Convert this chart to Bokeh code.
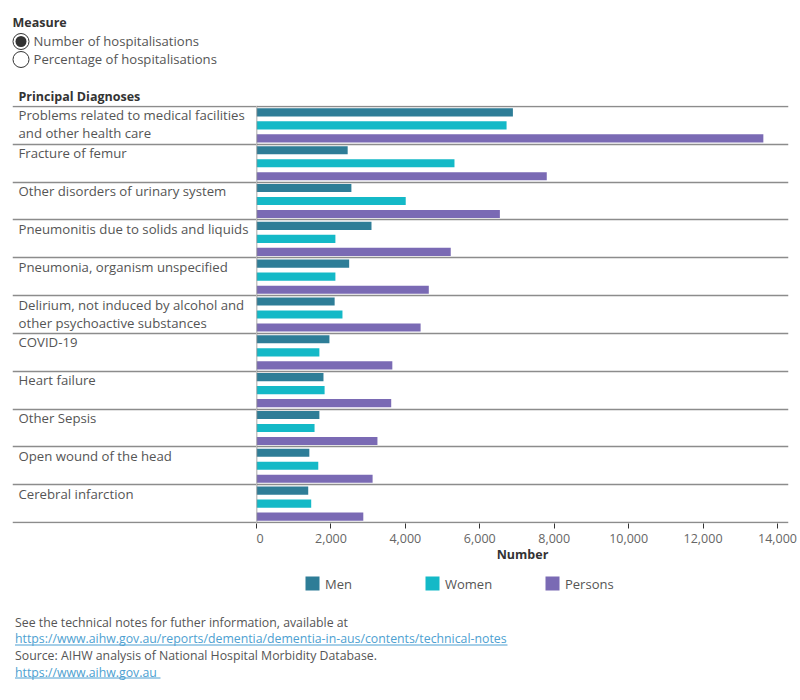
from bokeh.plotting import figure
from bokeh.models import (ColumnDataSource, FactorRange, Range1d, FixedTicker,
                          NumeralTickFormatter, Span, Spacer)
from bokeh.layouts import column, row
from bokeh.transform import dodge
from bokeh.core.properties import value
from bokeh.embed import file_html
from bokeh.resources import INLINE

# ---- data -------------------------------------------------------------
diagnoses = [
    "Problems related to medical facilities and other health care",
    "Fracture of femur",
    "Other disorders of urinary system",
    "Pneumonitis due to solids and liquids",
    "Pneumonia, organism unspecified",
    "Delirium, not induced by alcohol and other psychoactive substances",
    "COVID-19",
    "Heart failure",
    "Other Sepsis",
    "Open wound of the head",
    "Cerebral infarction",
]
diagnosis_labels = [
    "Problems related to medical facilities\nand other health care",
    "Fracture of femur",
    "Other disorders of urinary system",
    "Pneumonitis due to solids and liquids",
    "Pneumonia, organism unspecified",
    "Delirium, not induced by alcohol and\nother psychoactive substances",
    "COVID-19",
    "Heart failure",
    "Other Sepsis",
    "Open wound of the head",
    "Cerebral infarction",
]
men = [6890, 2450, 2550, 3090, 2490, 2100, 1960, 1800, 1690, 1420, 1390]
women = [6720, 5320, 4010, 2120, 2120, 2310, 1690, 1830, 1560, 1660, 1470]
persons = [13620, 7800, 6540, 5220, 4630, 4410, 3650, 3620, 3250, 3120, 2870]

series_names = ["Men", "Women", "Persons"]
series_colors = ["#2e7d97", "#14b9c7", "#7a6ab4"]
x_ticks = [0, 2000, 4000, 6000, 8000, 10000, 12000, 14000]
measure_options = ["Number of hospitalisations", "Percentage of hospitalisations"]

FONT = value("Open Sans")
TEXT = "#555555"
DARK = "#333333"
RULE = "#8c8c8c"
LINK = "#4d9fd1"

source = ColumnDataSource(dict(diag=diagnoses, label=diagnosis_labels,
                               Men=men, Women=women, Persons=persons))

# ---- helpers ----------------------------------------------------------
def canvas(w, h):
    f = figure(width=w, height=h, x_range=Range1d(0, w), y_range=Range1d(h, 0),
               output_backend="svg", toolbar_location=None,
               x_axis_location=None, y_axis_location=None, min_border=0)
    f.outline_line_color = None
    f.grid.visible = False
    f.background_fill_color = "white"
    f.border_fill_color = "white"
    return f

# ---- header: measure selector and column title ------------------------
HEADER_H = 105
header = canvas(800, HEADER_H)
header.text(x=[12], y=[22], text=["Measure"], text_font=FONT, text_font_style="bold",
            text_font_size="12.5px", text_baseline="middle", text_color=DARK)
header.circle(x=[20.5, 20.5], y=[41, 59], radius=8, fill_color="white",
              line_color=DARK, line_width=1)
header.circle(x=[20.5], y=[41], radius=5.5, fill_color=DARK, line_color=None)
header.text(x=[33, 33], y=[40, 58], text=measure_options, text_font=FONT,
            text_font_size="13.1px", text_baseline="middle", text_color=TEXT)
header.text(x=[18], y=[96], text=["Principal Diagnoses"], text_font=FONT,
            text_font_style="bold", text_font_size="12.5px", text_baseline="middle",
            text_color=DARK)

# ---- shared category axis (top to bottom) ------------------------------
y_range = FactorRange(factors=list(reversed(diagnoses)), range_padding=0.0264,
                      range_padding_units="absolute")
boundaries = ColumnDataSource(dict(y=list(range(len(diagnoses) + 1))))

BOTTOM = 50
PLOT_H = 418 + BOTTOM

# ---- row labels ------------------------------------------------------
labels = figure(width=244, height=PLOT_H, x_range=Range1d(0, 244), y_range=y_range,
                output_backend="svg", toolbar_location=None,
                x_axis_location=None, y_axis_location=None,
                min_border_left=0, min_border_right=0, min_border_top=0,
                min_border_bottom=BOTTOM)
labels.outline_line_color = None
labels.grid.visible = False
labels.hspan(y="y", source=boundaries, line_color=RULE, line_width=1.5)
labels.text(x=6, y=dodge("diag", 0.5, range=y_range), text="label", source=source,
            text_font=FONT, text_font_size="13.2px", text_baseline="top",
            text_line_height=1.0, text_color=TEXT)

# ---- bars ------------------------------------------------------------
p = figure(width=544, height=PLOT_H, x_range=Range1d(0, 14296), y_range=y_range,
           output_backend="svg", toolbar_location=None, y_axis_location=None,
           min_border_left=0, min_border_right=12, min_border_top=0,
           min_border_bottom=BOTTOM)
p.outline_line_color = None
p.grid.visible = False
p.hspan(y="y", source=boundaries, line_color=RULE, line_width=1.5)
p.add_layout(Span(location=0, dimension="height", line_color=RULE, line_width=1.5))

offsets = [0.344, 0.0, -0.344]
for name, color, off in zip(series_names, series_colors, offsets):
    p.hbar(y=dodge("diag", off, range=y_range), right=name, left=0, height=0.215,
           source=source, fill_color=color, line_color=None)

ax = p.xaxis[0]
ax.ticker = FixedTicker(ticks=x_ticks)
ax.formatter = NumeralTickFormatter(format="0,0")
ax.axis_label = "Number"
ax.axis_label_text_font = "Open Sans"
ax.axis_label_text_font_style = "bold"
ax.axis_label_text_font_size = "12.5px"
ax.axis_label_text_color = DARK
ax.axis_label_standoff = 0
ax.major_label_text_font = "Open Sans"
ax.major_label_text_font_size = "12.5px"
ax.major_label_text_color = "#666666"
ax.major_label_standoff = 5
ax.axis_line_color = None
ax.major_tick_line_color = DARK
ax.major_tick_out = 5
ax.major_tick_in = 0
ax.minor_tick_line_color = None

# ---- legend ------------------------------------------------------------
legend = canvas(800, 27)
legend_x = [312, 432, 552]
legend.rect(x=legend_x, y=[10, 10, 10], width=14, height=14, fill_color=series_colors,
            line_color=None)
legend.text(x=[x + 12.5 for x in legend_x], y=[10, 10, 10], text=series_names,
            text_font=FONT, text_font_size="13px", text_baseline="middle",
            text_color=TEXT)

# ---- footnotes ----------------------------------------------------------
notes = [
    ("See the technical notes for futher information, available at", TEXT),
    ("https://www.aihw.gov.au/reports/dementia/dementia-in-aus/contents/technical-notes", LINK),
    ("Source: AIHW analysis of National Hospital Morbidity Database.", TEXT),
    ("https://www.aihw.gov.au", LINK),
]
footer = canvas(800, 100)
note_y = [21.7, 38.3, 55, 71.7]
footer.text(x=[14.5] * 4, y=note_y, text=[n[0] for n in notes],
            text_color=[n[1] for n in notes], text_font=FONT, text_font_size="12.3px",
            text_baseline="middle")
footer.segment(x0=[14.5, 14.5], y0=[44.5, 77.5], x1=[507, 160], y1=[44.5, 77.5],
               line_color=LINK, line_width=1)

layout = column(header, row(Spacer(width=12, height=PLOT_H), labels, p), legend, footer,
                spacing=0)

with open("out.html", "w") as fh:
    fh.write(file_html(layout, INLINE, title="Principal diagnoses"))
